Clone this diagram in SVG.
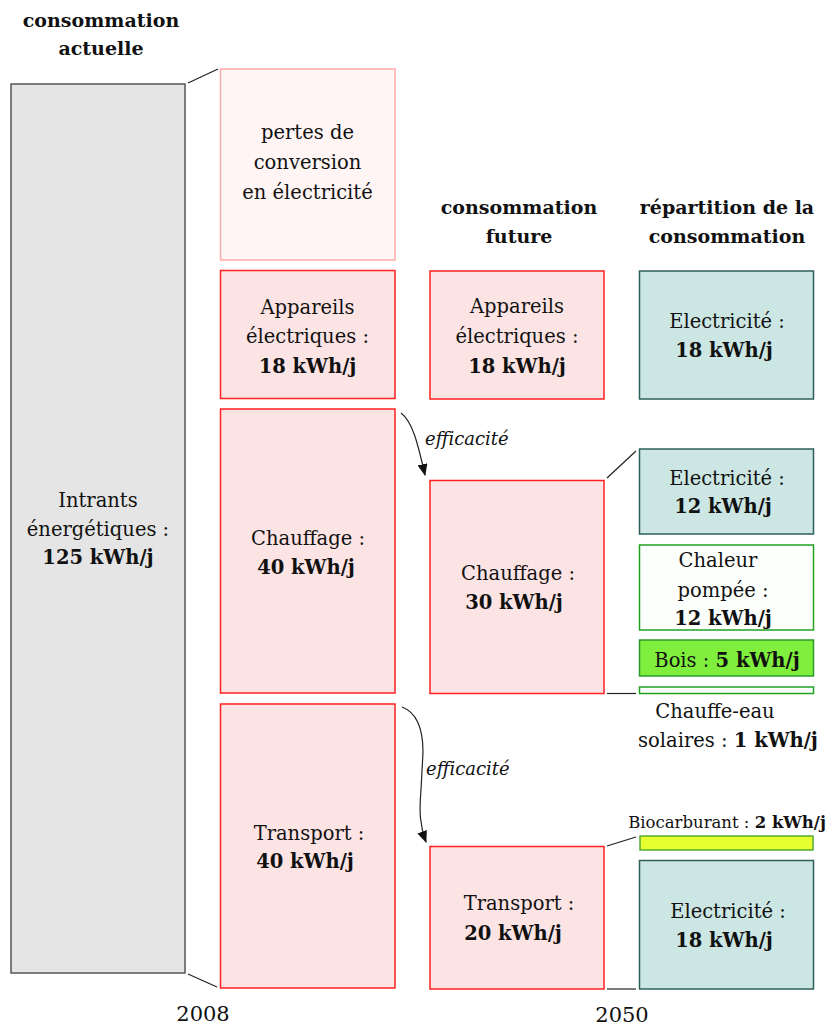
<svg xmlns="http://www.w3.org/2000/svg" width="834" height="1025" viewBox="0 0 834 1025">
<style>
text{font-family:"DejaVu Serif","Liberation Serif",serif;font-size:19.5px;fill:#111;text-anchor:middle}
.b{font-weight:bold}
.h{font-weight:bold;font-size:19px}
.it{font-style:italic;font-size:18px;text-anchor:start}
.sm{font-size:16.5px}
.yr{font-size:21px}
.gray{fill:#e5e5e5;stroke:#555;stroke-width:1.5}
.pink{fill:#fde4e4;stroke:#ff2020;stroke-width:1.5}
.pale{fill:#fff5f4;stroke:#ffaaaa;stroke-width:1.5}
.teal{fill:#cce6e4;stroke:#2f5f5a;stroke-width:1.5}
.grn{fill:#fdfffd;stroke:#22a022;stroke-width:1.5}
.bois{fill:#80ee3c;stroke:#2a9a2a;stroke-width:1.5}
.bio{fill:#e5ff30;stroke:#55aa33;stroke-width:1.5}
.ln{stroke:#222;stroke-width:1.2;fill:none}
</style>
<defs>
<marker id="ah" viewBox="0 0 12 10" refX="11" refY="5" markerWidth="12" markerHeight="10" orient="auto" markerUnits="userSpaceOnUse">
<path d="M0,0 L12,5 L0,10 z" fill="#111"/>
</marker>
</defs>

<g id="headings">
<text class="h" x="101" y="27">consommation</text>
<text class="h" x="101" y="55">actuelle</text>
<text class="h" x="519" y="214">consommation</text>
<text class="h" x="519" y="243">future</text>
<text class="h" x="727" y="214">répartition de la</text>
<text class="h" x="727" y="243">consommation</text>
</g>

<g id="intrants">
<rect class="gray" x="11" y="84" width="174" height="889"/>
<text x="98" y="507">Intrants</text>
<text x="98" y="536">énergétiques :</text>
<text class="b" x="98" y="564">125 kWh/j</text>
</g>

<g id="pertes">
<rect class="pale" x="220.5" y="69" width="174.5" height="191"/>
<text x="307.5" y="139">pertes de</text>
<text x="307.5" y="169">conversion</text>
<text x="307.5" y="199">en électricité</text>
</g>

<g id="appareils-2008">
<rect class="pink" x="220.5" y="270.5" width="174.5" height="128"/>
<text x="307.5" y="314">Appareils</text>
<text x="307.5" y="343">électriques :</text>
<text class="b" x="307.5" y="373">18 kWh/j</text>
</g>

<g id="chauffage-2008">
<rect class="pink" x="220.5" y="409" width="174.5" height="284"/>
<text x="308" y="545">Chauffage :</text>
<text class="b" x="306" y="574">40 kWh/j</text>
</g>

<g id="transport-2008">
<rect class="pink" x="220.5" y="704" width="174.5" height="284"/>
<text x="309" y="840">Transport :</text>
<text class="b" x="305" y="868">40 kWh/j</text>
</g>

<g id="appareils-2050">
<rect class="pink" x="430" y="271" width="174" height="128"/>
<text x="517" y="313">Appareils</text>
<text x="517" y="343">électriques :</text>
<text class="b" x="517" y="373">18 kWh/j</text>
</g>

<g id="chauffage-2050">
<rect class="pink" x="430" y="480.5" width="174" height="213"/>
<text x="518" y="580">Chauffage :</text>
<text class="b" x="514" y="609">30 kWh/j</text>
</g>

<g id="transport-2050">
<rect class="pink" x="430" y="846.5" width="174" height="142.5"/>
<text x="519" y="910">Transport :</text>
<text class="b" x="513" y="940">20 kWh/j</text>
</g>

<g id="elec-appareils">
<rect class="teal" x="639.5" y="271" width="174" height="128"/>
<text x="727" y="328">Electricité :</text>
<text class="b" x="724" y="357">18 kWh/j</text>
</g>

<g id="elec-chauffage">
<rect class="teal" x="639.5" y="449" width="174" height="85"/>
<text x="727" y="485">Electricité :</text>
<text class="b" x="723" y="513">12 kWh/j</text>
</g>

<g id="chaleur-pompee">
<rect class="grn" x="639.5" y="545" width="174" height="85"/>
<text x="718" y="567">Chaleur</text>
<text x="723" y="597">pompée :</text>
<text class="b" x="723" y="625">12 kWh/j</text>
</g>

<g id="bois">
<rect class="bois" x="639.5" y="640" width="174" height="36"/>
<text x="727" y="667">Bois : <tspan class="b">5 kWh/j</tspan></text>
</g>

<g id="chauffe-eau">
<rect class="grn" x="639.5" y="687" width="174" height="6.5"/>
<text x="715" y="718">Chauffe-eau</text>
<text x="728" y="747">solaires : <tspan class="b">1 kWh/j</tspan></text>
</g>

<g id="biocarburant">
<rect class="bio" x="640" y="836" width="173" height="14"/>
<text class="sm" x="727" y="828">Biocarburant : <tspan class="b">2 kWh/j</tspan></text>
</g>

<g id="elec-transport">
<rect class="teal" x="639.5" y="860.5" width="174" height="128.5"/>
<text x="728" y="918">Electricité :</text>
<text class="b" x="724" y="947">18 kWh/j</text>
</g>

<g id="connectors">
<line class="ln" x1="188" y1="83" x2="218" y2="69"/>
<line class="ln" x1="188" y1="974" x2="217" y2="987"/>
<line class="ln" x1="607" y1="478" x2="636" y2="451"/>
<line class="ln" x1="607" y1="693.5" x2="636" y2="693.5"/>
<line class="ln" x1="607" y1="846" x2="636" y2="837"/>
<line class="ln" x1="607" y1="989" x2="636" y2="989"/>
<path class="ln" d="M401,413 C413,422 418,445 425,475" marker-end="url(#ah)"/>
<path class="ln" d="M402,707 C418,713 423,730 423,752 L421,790 C419,812 420,826 426,842" marker-end="url(#ah)"/>
</g>

<g id="labels">
<text class="it" x="425" y="445">efficacité</text>
<text class="it" x="426" y="775">efficacité</text>
<text class="yr" x="203" y="1021">2008</text>
<text class="yr" x="622" y="1022">2050</text>
</g>
</svg>
